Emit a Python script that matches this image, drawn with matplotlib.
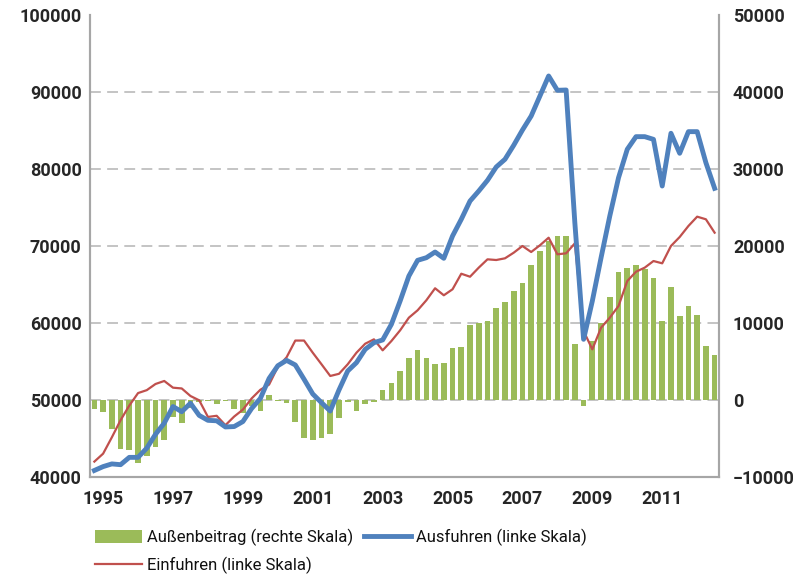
import numpy as np
import matplotlib
matplotlib.use("Agg")
import matplotlib.pyplot as plt

# quarterly values
ausfuhren = [40850, 41350, 41700, 41600, 42550, 42550, 43750, 45550, 47000, 49150,
             48480, 49580, 48000, 47360, 47300, 46500, 46550, 47200, 48900, 50200,
             52800, 54450, 55150, 54550, 52700, 50780, 49650, 48570, 51300, 53770,
             54850, 56580, 57440, 57800, 59830, 62860, 66100, 68140, 68480, 69220,
             68400, 71300, 73470, 75840, 77140, 78530, 80260, 81260, 83080, 85060,
             86880, 89480, 92080, 90220, 90260, 73000, 57880, 62860, 68480, 73900,
             78870, 82560, 84200, 84200, 83850, 77790, 84640, 82040, 84850, 84850,
             80820, 77490]

einfuhren = [42000, 43030, 45150, 47380, 49280, 50900, 51280, 52080, 52470, 51600,
             51500, 50520, 49960, 47800, 47950, 46730, 47850, 48750, 50200, 51330,
             52000, 54300, 55540, 57720, 57720, 56140, 54640, 53120, 53400, 54640,
             56140, 57310, 57880, 56450, 57660, 59050, 60690, 61650, 62950, 64510,
             63600, 64380, 66400, 66010, 67190, 68270, 68180, 68400, 69130, 70000,
             69220, 70090, 71080, 68920, 69050, 70350, 58960, 56580, 59390, 60690,
             62210, 65450, 66660, 67190, 68050, 67750, 70000, 71170, 72600, 73810,
             73470, 71730]

aussenbeitrag = [-1200, -1600, -3750, -6300, -6500, -8150, -7250, -6150, -5200, -2200,
                 -2950, -1000, -200, -150, -480, -150, -1210, -1730, -800, -1430,
                 600, -80, -400, -2900, -4890, -5150, -4950, -4420, -2290, -200,
                 -1430, -480, -220, 1250, 2210, 3770, 5410, 6470, 5450, 4630,
                 4850, 6690, 6880, 9740, 9960, 10260, 11990, 12730, 14160, 15150,
                 17570, 19350, 20650, 21300, 21300, 7230, -780, 7660, 10040, 13420,
                 16620, 17190, 17490, 16970, 15800, 10260, 14720, 10910, 12210, 11040,
                 7010, 5800]

year_labels = ["1995", "1997", "1999", "2001", "2003", "2005", "2007", "2009", "2011"]
year_pos = [1, 9, 17, 25, 33, 41, 49, 57, 65]

plt.rcParams['font.family'] = ['Roboto', 'DejaVu Sans']

x = np.arange(len(ausfuhren))
grau = "#A6A6A6"
textfarbe = "#262626"

fig = plt.figure(figsize=(7.97, 5.76), dpi=100)
ax = fig.add_axes([90/797, 1 - 477/576, 629/797, 462/576])
ax2 = ax.twinx()

# bars on the right scale, behind the lines
ax2.bar(x, aussenbeitrag, width=0.65, color="#9BBB59", zorder=2,
        label="Außenbeitrag (rechte Skala)")
ax2.set_ylim(-10000, 50000)
ax2.set_yticks(np.arange(-10000, 50001, 10000))

ax.set_zorder(ax2.get_zorder() + 1)
ax.patch.set_visible(False)
ax.plot(x, einfuhren, color="#C0504D", lw=1.6, label="Einfuhren (linke Skala)",
        solid_joinstyle="round", zorder=3)
ax.plot(x, ausfuhren, color="#4F81BD", lw=3.5, label="Ausfuhren (linke Skala)",
        solid_joinstyle="round", zorder=4)
ax.set_ylim(40000, 100000)
ax.set_yticks(np.arange(40000, 100001, 10000))
ax.set_xlim(-0.5, len(x) - 0.5)
ax.set_xticks(year_pos)
ax.set_xticklabels(year_labels)

# dashed grid lines (drawn on the bar axis so they sit behind the bars)
for v in range(0, 50000, 10000):
    ax2.axhline(v, color="#BFBFBF", lw=1.3, ls=(0, (6, 3.5)), zorder=1)

for a in (ax, ax2):
    a.spines["top"].set_visible(False)
    for s in ("left", "right", "bottom"):
        a.spines[s].set_color(grau)
        a.spines[s].set_linewidth(1.5)
ax.tick_params(axis="both", length=0, labelsize=13, colors=textfarbe)
ax.tick_params(axis="y", pad=6)
ax.tick_params(axis="x", pad=9)
ax2.tick_params(axis="y", length=0, labelsize=13, colors=textfarbe, pad=10)
for lab in ax.get_xticklabels() + ax.get_yticklabels() + ax2.get_yticklabels():
    lab.set_fontweight("bold")

h1, l1 = ax2.get_legend_handles_labels()
h2, l2 = ax.get_legend_handles_labels()
handles = [h1[0], h2[0], h2[1]]
labels = [l1[0], l2[0], l2[1]]
fig.legend(handles, labels, ncol=2, loc="upper left",
           bbox_to_anchor=(80/797, 1 - 514/576), frameon=False,
           fontsize=12, handlelength=2.8, handleheight=0.8,
           columnspacing=0.7, handletextpad=0.3, labelspacing=0.6,
           labelcolor="#111111")

fig.savefig("out.png", dpi=100)
